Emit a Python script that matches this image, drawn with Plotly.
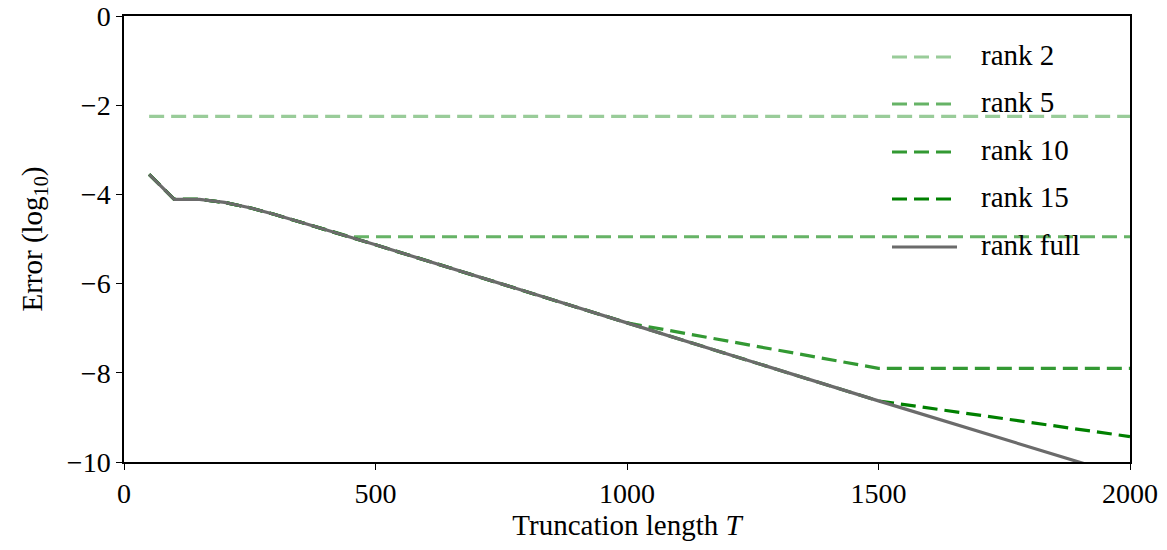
import plotly.graph_objects as go

T = [50, 100, 150, 200, 250, 300, 350, 400, 450, 500, 1000, 1500, 2000]
err_full = [-3.55, -4.11, -4.11, -4.18, -4.30, -4.45, -4.62, -4.79, -4.95, -5.13, -6.88, -8.63, -10.35]
err_rank2 = [-2.25] * len(T)
err_rank5 = [-3.55, -4.11, -4.11, -4.18, -4.30, -4.45, -4.62, -4.79, -4.95, -4.95, -4.95, -4.95, -4.95]
err_rank10 = [-3.55, -4.11, -4.11, -4.18, -4.30, -4.45, -4.62, -4.79, -4.95, -5.13, -6.88, -7.90, -7.90]
err_rank15 = [-3.55, -4.11, -4.11, -4.18, -4.30, -4.45, -4.62, -4.79, -4.95, -5.13, -6.88, -8.63, -9.43]

names = ["rank 2", "rank 5", "rank 10", "rank 15", "rank full"]
series = [err_rank2, err_rank5, err_rank10, err_rank15, err_full]
colors = ["#99cc99", "#66b366", "#339933", "#008000", "#6b6b6b"]
dashes = ["15px,7px", "15px,7px", "15px,7px", "15px,7px", "solid"]

FONT = "Liberation Serif"
L, R, TOP, B = 124, 37, 16, 88
W, H = 1167, 550
PW, PH = W - L - R, H - TOP - B

fig = go.Figure()
for n, y, c, d in zip(names, series, colors, dashes):
    fig.add_trace(go.Scatter(x=T, y=y, mode="lines", name=n, showlegend=False,
                             line=dict(color=c, width=3.2, dash=d)))

# manual legend (long line samples as in reference)
leg_y_px = [57, 104, 152, 199, 247]
shapes, annots = [], []
for n, c, d, py in zip(names, colors, dashes, leg_y_px):
    yp = (H - B - py) / PH
    shapes.append(dict(type="line", xref="paper", yref="paper",
                       x0=(892 - L) / PW, x1=(957 - L) / PW, y0=yp, y1=yp,
                       line=dict(color=c, width=3.2, dash=d)))
    annots.append(dict(text=n, xref="paper", yref="paper", x=(979 - L) / PW, y=yp + 2 / PH,
                       xanchor="left", yanchor="middle", showarrow=False,
                       font=dict(family=FONT, size=29, color="black")))

axis_common = dict(showline=True, linecolor="black", linewidth=1.5, mirror=True,
                   ticks="outside", ticklen=6, tickwidth=1.2, tickcolor="black",
                   showgrid=False, zeroline=False, automargin=False,
                   ticklabeloverflow="allow",
                   tickfont=dict(family=FONT, size=28, color="black"))
fig.update_layout(
    width=W, height=H,
    margin=dict(l=L, r=R, t=TOP, b=B),
    plot_bgcolor="white", paper_bgcolor="white",
    font=dict(family=FONT, size=28, color="black"),
    showlegend=False,
    shapes=shapes, annotations=annots,
    xaxis=dict(range=[0, 2000], tickvals=[0, 500, 1000, 1500, 2000],
               title=dict(text="Truncation length <i>T</i>", font=dict(family=FONT, size=29), standoff=6),
               **axis_common),
    yaxis=dict(range=[-10, 0], tickvals=[0, -2, -4, -6, -8, -10],
               title=dict(text="Error (log<sub>10</sub>)", font=dict(family=FONT, size=29), standoff=16),
               **axis_common),
)
fig.write_html("out.html")
